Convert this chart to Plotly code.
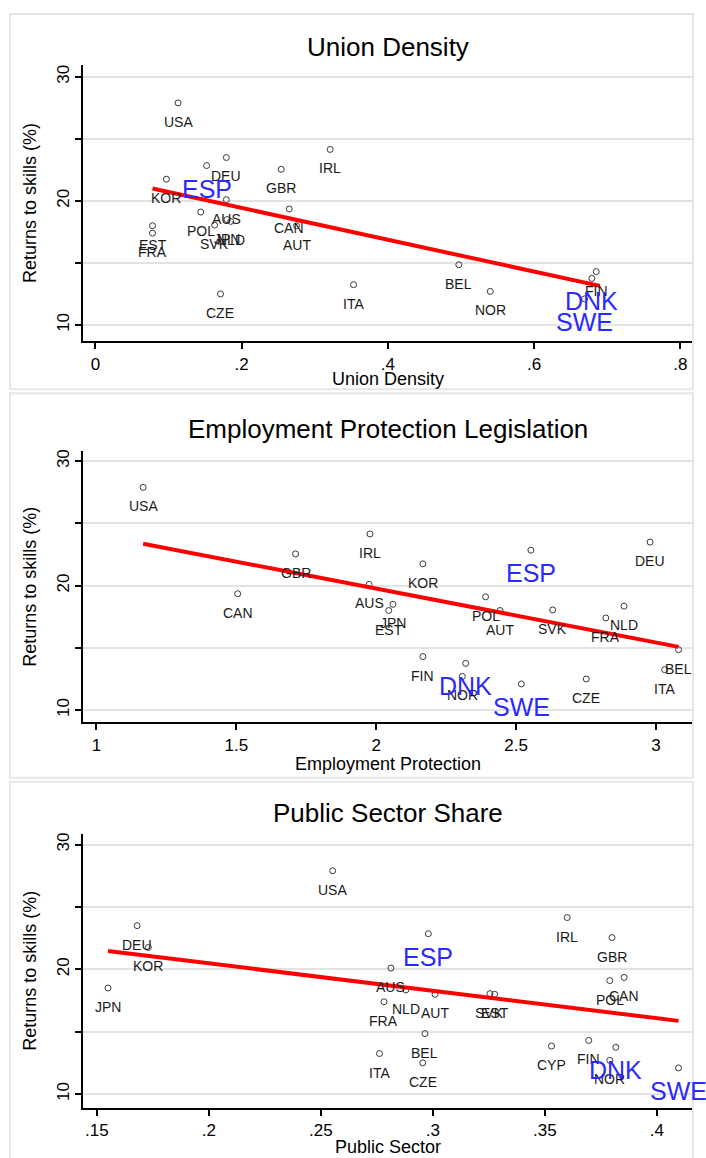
import plotly.graph_objects as go

# ---------------- data ----------------
countries = ["USA", "DEU", "ESP", "KOR", "GBR", "IRL", "AUS", "POL", "CAN", "AUT", "EST", "FRA",
             "SVK", "NLD", "JPN", "CZE", "ITA", "BEL", "NOR", "FIN", "DNK", "SWE", "CYP"]
returns = [27.9, 23.5, 22.85, 21.75, 22.55, 24.15, 20.1, 19.1, 19.35, 18.0, 18.0, 17.4,
           18.05, 18.35, 18.5, 12.5, 13.25, 14.85, 12.7, 14.3, 13.75, 12.1, 13.85]
union_density = [0.113, 0.179, 0.152, 0.097, 0.254, 0.321, 0.179, 0.144, 0.265, 0.275, 0.078, 0.078,
                 0.163, 0.185, 0.180, 0.171, 0.353, 0.497, 0.540, 0.685, 0.679, 0.669, None]
employment_protection = [1.167, 2.979, 2.553, 2.167, 1.712, 1.978, 1.975, 2.391, 1.505, 2.443, 2.045, 2.821,
                         2.631, 2.886, 2.06, 2.751, 3.031, 3.081, 2.308, 2.167, 2.32, 2.519, None]
public_sector = [0.2553, 0.168, 0.298, 0.173, 0.380, 0.360, 0.2813, 0.379, 0.3854, 0.301, 0.3276, 0.2782,
                 0.3255, 0.288, 0.155, 0.2955, 0.2762, 0.2965, 0.379, 0.3696, 0.3817, 0.4097, 0.353]
highlight = ["ESP", "DNK", "SWE"]

fit_union_x, fit_union_y = [0.078, 0.69], [21.0, 13.15]
fit_epl_x, fit_epl_y = [1.167, 3.081], [23.37, 15.08]
fit_public_x, fit_public_y = [0.155, 0.4097], [21.47, 15.87]

panel_titles = ["Union Density", "Employment Protection Legislation", "Public Sector Share"]
x_titles = ["Union Density", "Employment Protection", "Public Sector"]
y_title = "Returns to skills (%)"
x_tickvals = [[0, 0.2, 0.4, 0.6, 0.8], [1, 1.5, 2, 2.5, 3], [0.15, 0.2, 0.25, 0.3, 0.35, 0.4]]
x_ticktext = [["0", ".2", ".4", ".6", ".8"], ["1", "1.5", "2", "2.5", "3"], [".15", ".2", ".25", ".3", ".35", ".4"]]
y_tickvals = [10, 15, 20, 25, 30]
y_ticktext = ["10", "", "20", "", "30"]

# ---------------- layout geometry (pixels of a 706x1158 page) ----------------
W, H = 706, 1158
FONT = "Liberation Sans, Arial, sans-serif"
panels = [
    dict(xs=union_density, fx=fit_union_x, fy=fit_union_y, top=62.7, bottom=340,
         xr=[-0.0168, 0.816], yr=[8.672, 30.99], title_y=45, xt_y=378, box=(10, 12, 693, 388)),
    dict(xs=employment_protection, fx=fit_epl_x, fy=fit_epl_y, top=450, bottom=721.7,
         xr=[0.9528, 3.129], yr=[9.005, 30.80], title_y=428, xt_y=763, box=(10, 392, 693, 777)),
    dict(xs=public_sector, fx=fit_public_x, fy=fit_public_y, top=833, bottom=1108,
         xr=[0.14393, 0.41571], yr=[8.88, 30.88], title_y=812, xt_y=1147, box=(10, 781, 693, 1162)),
]
left_px, right_px = 83.2, 692

fig = go.Figure()
annotations = []
shapes = []
layout_axes = {}

for i, p in enumerate(panels):
    n = "" if i == 0 else str(i + 1)
    xa, ya = "x" + n, "y" + n
    xs = p["xs"]
    px_, py_, pt = [], [], []
    for c, xv, yv in zip(countries, xs, returns):
        if xv is None:
            continue
        px_.append(xv)
        py_.append(yv)
        pt.append(c)
    fig.add_trace(go.Scatter(x=px_, y=py_, mode="markers", xaxis=xa, yaxis=ya,
                             marker=dict(symbol="circle-open", size=6, color="#3a3a3a",
                                         line=dict(width=1, color="#3a3a3a")),
                             showlegend=False, hoverinfo="text", text=pt))
    fig.add_trace(go.Scatter(x=p["fx"], y=p["fy"], mode="lines", xaxis=xa, yaxis=ya,
                             line=dict(color="red", width=4), showlegend=False, hoverinfo="skip"))
    for c, xv, yv in zip(pt, px_, py_):
        big = c in highlight
        annotations.append(dict(x=xv, y=yv, xref=xa, yref=ya, text=c, showarrow=False,
                                yanchor="middle", xanchor="center",
                                yshift=-23 if big else -19,
                                font=dict(family=FONT, size=25 if big else 14,
                                          color="#2a2aff" if big else "#1a1a1a")))
    dom_y = [1 - p["bottom"] / H, 1 - p["top"] / H]
    layout_axes["xaxis" + n] = dict(domain=[left_px / W, right_px / W], range=p["xr"], anchor=ya,
                                    tickvals=x_tickvals[i], ticktext=x_ticktext[i],
                                    showgrid=False, zeroline=False, showline=True,
                                    linecolor="black", linewidth=1.5, ticks="outside",
                                    ticklen=6, tickcolor="black", tickwidth=1.5,
                                    tickfont=dict(family=FONT, size=17, color="black"))
    layout_axes["yaxis" + n] = dict(domain=dom_y, range=p["yr"], anchor=xa,
                                    tickvals=y_tickvals, ticktext=y_ticktext, tickangle=-90,
                                    showgrid=True, gridcolor="#e3e3e3", gridwidth=1.5,
                                    zeroline=False, showline=True, linecolor="black", linewidth=1.5,
                                    ticks="outside", ticklen=6, tickcolor="black", tickwidth=1.5,
                                    tickfont=dict(family=FONT, size=17, color="black"))
    annotations.append(dict(x=388 / W, y=1 - p["title_y"] / H, xref="paper", yref="paper",
                            text=panel_titles[i], showarrow=False, xanchor="center", yanchor="middle",
                            font=dict(family=FONT, size=26, color="black")))
    annotations.append(dict(x=388 / W, y=1 - p["xt_y"] / H, xref="paper", yref="paper",
                            text=x_titles[i], showarrow=False, xanchor="center", yanchor="middle",
                            font=dict(family=FONT, size=18, color="black")))
    annotations.append(dict(x=30 / W, y=1 - (p["top"] + p["bottom"]) / 2 / H, xref="paper", yref="paper",
                            text=y_title, showarrow=False, textangle=-90,
                            xanchor="center", yanchor="middle",
                            font=dict(family=FONT, size=18, color="black")))
    x0, y0, x1, y1 = p["box"]
    shapes.append(dict(type="rect", xref="paper", yref="paper", layer="below",
                       x0=x0 / W, x1=x1 / W, y0=1 - y1 / H, y1=1 - y0 / H,
                       line=dict(color="#e6e6e6", width=2), fillcolor="rgba(0,0,0,0)"))

fig.update_layout(width=W, height=H, margin=dict(l=0, r=0, t=0, b=0),
                  paper_bgcolor="white", plot_bgcolor="white",
                  annotations=annotations, shapes=shapes, **layout_axes)

# remove the browser's default 8px page margin so the figure fills the window
fig.write_html("out.html", config={"displayModeBar": False},
               post_script="document.body.style.margin='0';document.body.style.overflow='hidden';")
